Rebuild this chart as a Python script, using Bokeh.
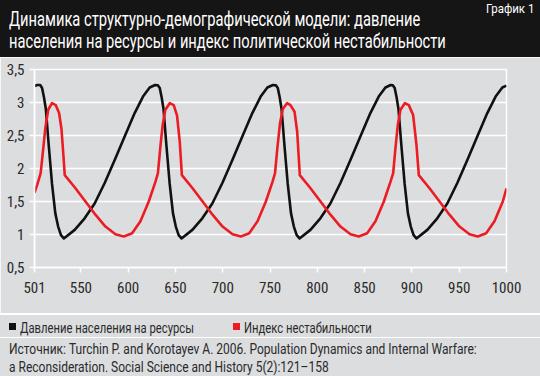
from bokeh.plotting import figure
from bokeh.models import Div, FixedTicker
from bokeh.layouts import column
from bokeh.embed import file_html
from bokeh.resources import INLINE

# ---------------- data ----------------
title_lines = ["Динамика структурно-демографической модели: давление",
               "населения на ресурсы и индекс политической нестабильности"]
chart_label = "График 1"
series_names = ["Давление населения на ресурсы", "Индекс нестабильности"]
source_lines = ["Источник: Turchin P. and Korotayev A. 2006. Population Dynamics and Internal Warfare:",
                "a Reconsideration. Social Science and History 5(2):121–158"]

x_ticks = [501, 550, 600, 650, 700, 750, 800, 850, 900, 950, 1000]
y_ticks = [0.5, 1, 1.5, 2, 2.5, 3, 3.5]
y_tick_labels = ["0,5", "1", "1,5", "2", "2,5", "3", "3,5"]

# population pressure on resources (black)
pressure_years = [501, 504, 507, 509, 511, 513, 516, 519.5, 523, 526, 529, 532,
                  543.5, 554, 564.6, 575.2, 585.8, 596.3, 606.9, 615.7, 622.8, 628.5,
                  631.4, 633.4, 635.4, 637.4, 640.4, 643.9, 647.4, 650.4, 653.4, 656.4,
                  667.9, 678.4, 689, 699.6, 710.2, 720.7, 731.3, 740.1, 747.2, 753,
                  756.2, 758.2, 760.2, 762.2, 765.2, 768.7, 772.2, 775.2, 778.2, 781.2,
                  792.7, 803.2, 813.8, 824.4, 835, 845.5, 856.1, 864.9, 872, 877.5,
                  879.8, 881.8, 883.8, 885.8, 888.8, 892.3, 895.8, 898.8, 901.8, 904.8,
                  916.3, 926.8, 937.4, 948, 958.6, 969.1, 979.7, 988.5, 995.6, 1000]
pressure_vals = [3.25, 3.265, 3.265, 3.22, 3.08, 2.90, 2.36, 1.77, 1.32, 1.12, 0.99, 0.94,
                 1.07, 1.245, 1.47, 1.78, 2.13, 2.485, 2.84, 3.09, 3.227, 3.265,
                 3.26, 3.22, 3.08, 2.90, 2.36, 1.77, 1.32, 1.12, 0.99, 0.94,
                 1.07, 1.245, 1.47, 1.78, 2.13, 2.485, 2.84, 3.09, 3.227, 3.265,
                 3.26, 3.22, 3.08, 2.90, 2.36, 1.77, 1.32, 1.12, 0.99, 0.94,
                 1.07, 1.245, 1.47, 1.78, 2.13, 2.485, 2.84, 3.09, 3.227, 3.265,
                 3.26, 3.22, 3.08, 2.90, 2.36, 1.77, 1.32, 1.12, 0.99, 0.94,
                 1.07, 1.245, 1.47, 1.78, 2.13, 2.485, 2.84, 3.09, 3.227, 3.255]

# instability index (red)
instab_years = [501, 504, 507.5, 509.5, 512.5, 515.5, 519.5, 523.5, 527, 529.5, 531.3, 533,
                544.3, 554.9, 565.4, 576, 586.6, 595.4, 604.2, 613, 621.8, 628.9,
                631.5, 634, 636.5, 639.3, 644, 648.2, 651.7, 654.6, 656.8,
                668.1, 678.7, 689.2, 699.8, 710.4, 719.2, 728, 736.8, 745.6, 752.7,
                755.3, 757.7, 760.5, 763.5, 768, 771.6, 775.9, 778.7, 780.4, 781.5,
                792.8, 803.4, 813.9, 824.5, 835.1, 843.9, 852.7, 861.5, 870.3, 877.4,
                880.2, 882.6, 885.1, 887.9, 892.5, 896.7, 901.3, 904.8, 907.3,
                918.6, 929.2, 939.7, 950.3, 960.9, 969.7, 978.5, 987.3, 996.1, 1000]
instab_vals = [1.63, 1.76, 1.93, 2.20, 2.62, 2.89, 2.99, 2.96, 2.84, 2.60, 2.25, 1.90,
               1.70, 1.50, 1.30, 1.12, 1.005, 0.97, 1.02, 1.20, 1.50, 1.80,
               1.93, 2.32, 2.66, 2.89, 2.99, 2.96, 2.80, 2.40, 1.90,
               1.70, 1.50, 1.30, 1.12, 1.005, 0.97, 1.02, 1.20, 1.50, 1.80,
               1.93, 2.30, 2.68, 2.90, 2.99, 2.96, 2.86, 2.56, 2.155, 1.90,
               1.70, 1.50, 1.30, 1.12, 1.005, 0.97, 1.02, 1.20, 1.50, 1.80,
               1.93, 2.31, 2.66, 2.89, 2.99, 2.96, 2.81, 2.36, 1.90,
               1.70, 1.50, 1.30, 1.12, 1.005, 0.97, 1.02, 1.20, 1.50, 1.70]

# ---------------- style ----------------
FONT = "Roboto, 'Noto Sans', sans-serif"
TICK_FONT = "'Roboto Condensed', Roboto, sans-serif"
BG = "#dcdddf"
DARK = "#161515"
TXT = "#2a2a2a"
BLACK_LINE = "#111111"
RED_LINE = "#ec1c24"


def squeeze(html, sx):
    return (f'<span style="display:inline-block;transform:scaleX({sx});'
            f'transform-origin:0 0;white-space:nowrap;">{html}</span>')


title_div = Div(
    text=(f'<div style="position:relative;width:540px;height:57px;background:{DARK};'
          f'font-family:{FONT};color:#ffffff;overflow:hidden;">'
          f'<div style="position:absolute;left:9px;top:8px;font-size:21px;line-height:22px;">'
          + squeeze(f'{title_lines[0]}<br>{title_lines[1]}', 0.70) +
          f'</div>'
          f'<div style="position:absolute;left:486px;top:0px;font-size:13.5px;line-height:16px;">'
          + squeeze(chart_label, 0.85) +
          f'</div></div>'),
    width=540, height=57, margin=0)

p = figure(width=540, height=256, x_range=(501, 1000), y_range=(0.5, 3.5),
           output_backend="svg", toolbar_location=None,
           min_border_left=34, min_border_right=34, min_border_top=12, min_border_bottom=46)
p.background_fill_color = BG
p.border_fill_color = BG
p.outline_line_color = "white"
p.outline_line_width = 1.5

p.xgrid.visible = False
p.ygrid.grid_line_color = "white"
p.ygrid.grid_line_width = 1.5
p.ygrid.ticker = FixedTicker(ticks=y_ticks)

for ax in (p.xaxis[0], p.yaxis[0]):
    ax.axis_line_color = "white"
    ax.axis_line_width = 1.5
    ax.major_tick_line_color = "white"
    ax.major_tick_line_width = 1.5
    ax.major_tick_in = 0
    ax.major_tick_out = 5
    ax.minor_tick_line_color = None
    ax.major_label_text_font = TICK_FONT
    ax.major_label_text_font_size = "15px"
    ax.major_label_text_color = TXT

p.xaxis.major_label_standoff = 9
p.yaxis.major_label_standoff = 5
p.xaxis.ticker = FixedTicker(ticks=x_ticks)
p.yaxis.ticker = FixedTicker(ticks=y_ticks)
p.yaxis.major_label_overrides = {t: l for t, l in zip(y_ticks, y_tick_labels)}

p.line(pressure_years, pressure_vals, line_color=BLACK_LINE, line_width=2.6, line_join="round")
p.line(instab_years, instab_vals, line_color=RED_LINE, line_width=2.6, line_join="round")

bottom_div = Div(
    text=(f'<div style="position:relative;width:540px;height:63px;background:{BG};'
          f'font-family:{FONT};color:{TXT};overflow:hidden;">'
          f'<div style="position:absolute;left:0;top:0;width:540px;height:2px;background:#ffffff;"></div>'
          f'<div style="position:absolute;left:0;top:24px;width:540px;height:1px;background:#ffffff;"></div>'
          f'<div style="position:absolute;left:9px;top:10px;width:7px;height:7px;background:{BLACK_LINE};"></div>'
          f'<div style="position:absolute;left:20px;top:6px;font-size:15px;line-height:18px;">'
          + squeeze(series_names[0], 0.75) + '</div>'
          f'<div style="position:absolute;left:233px;top:10px;width:7px;height:7px;background:{RED_LINE};"></div>'
          f'<div style="position:absolute;left:244px;top:6px;font-size:15px;line-height:18px;">'
          + squeeze(series_names[1], 0.75) + '</div>'
          f'<div style="position:absolute;left:9px;top:27px;font-size:15px;line-height:18.4px;">'
          + squeeze(f'{source_lines[0]}<br>{source_lines[1]}', 0.80) +
          f'</div></div>'),
    width=540, height=63, margin=0)

layout = column(title_div, p, bottom_div, spacing=0, margin=0)
open("out.html", "w").write(file_html(layout, INLINE))
